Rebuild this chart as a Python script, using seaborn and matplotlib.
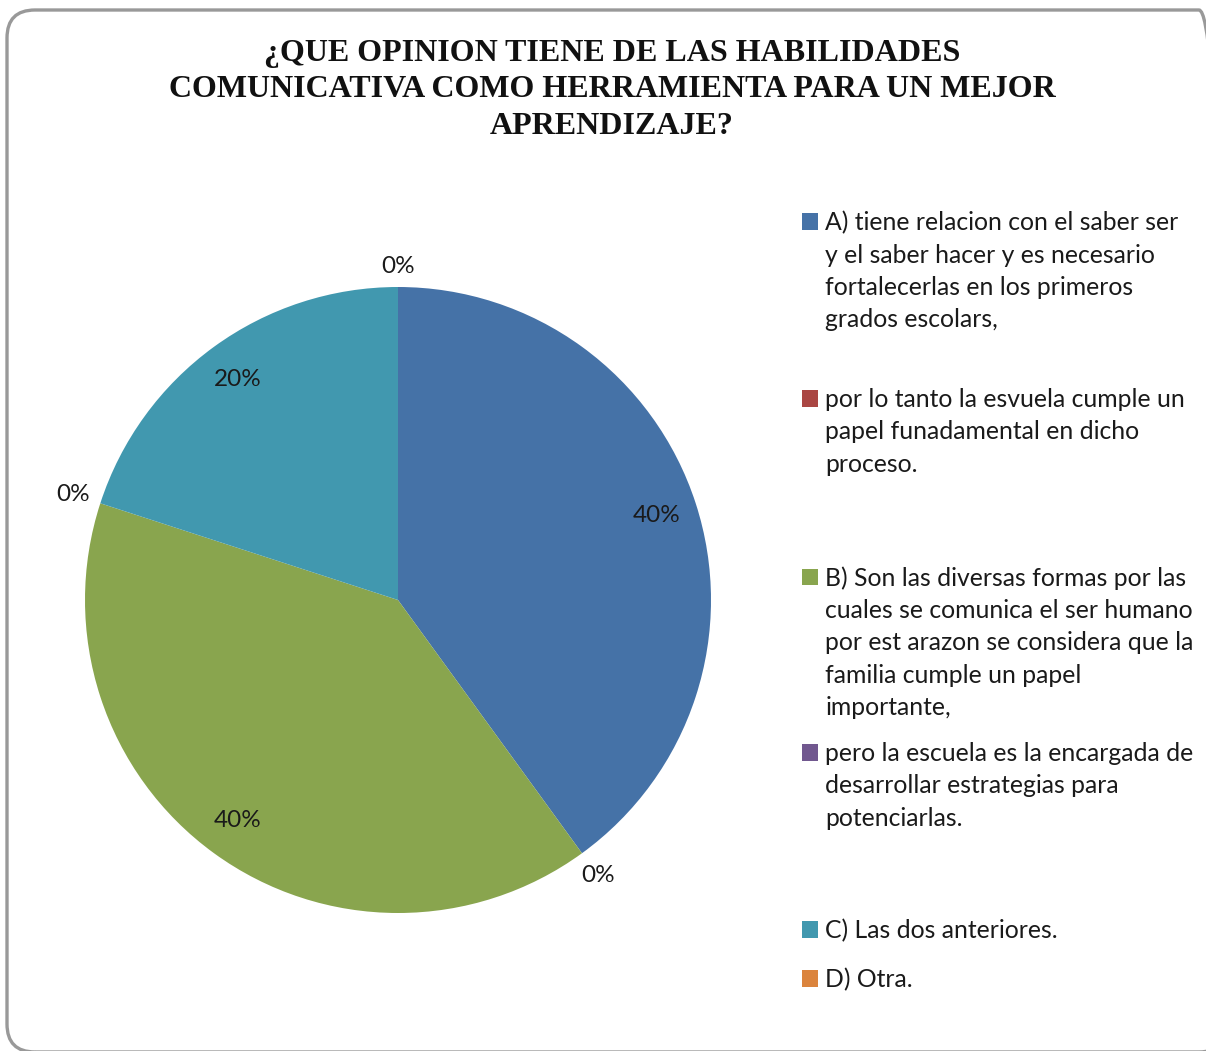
import numpy as np
import matplotlib.pyplot as plt
import seaborn as sns
from matplotlib.patches import Patch, FancyBboxPatch

# categories / values
categorias = [
    "A) tiene relacion con el saber ser\ny el saber hacer y es necesario\nfortalecerlas en los primeros\ngrados escolars,",
    "por lo tanto la esvuela cumple un\npapel funadamental en dicho\nproceso.",
    "B) Son las diversas formas por las\ncuales se comunica el ser humano\npor est arazon se considera que la\nfamilia cumple un papel\nimportante,",
    "pero la escuela es la encargada de\ndesarrollar estrategias para\npotenciarlas.",
    "C) Las dos anteriores.",
    "D) Otra.",
]
porcentajes = [40, 0, 40, 0, 20, 0]
colores = ["#4572A7", "#AA4643", "#89A54E", "#71588F", "#4198AF", "#DB843D"]
titulo = "¿QUE OPINION TIENE DE LAS HABILIDADES\nCOMUNICATIVA COMO HERRAMIENTA PARA UN MEJOR\nAPRENDIZAJE?"

sns.set_style("white")
plt.rcParams['font.family'] = ['Lato', 'DejaVu Sans']

W, H = 1206, 1051
fig = plt.figure(figsize=(W / 100, H / 100), dpi=100)

# rounded chart frame (inches, runs off the right/bottom edge like the original)
frame = FancyBboxPatch((0.07, -0.01), 12.2, 10.42,
                       boxstyle="round,pad=0,rounding_size=0.28",
                       transform=fig.dpi_scale_trans, facecolor="none",
                       edgecolor="#999999", linewidth=2.4, zorder=0,
                       clip_on=False)
fig.patches.append(frame)

cx, cy, r = 398, 600, 313
ax = fig.add_axes([(cx - r) / W, (H - cy - r) / H, 2 * r / W, 2 * r / H])
wedges, texts, autotexts = ax.pie(porcentajes, colors=colores, startangle=90,
                                  counterclock=False, autopct="%1.0f%%",
                                  pctdistance=0.87, radius=1,
                                  wedgeprops=dict(linewidth=0),
                                  textprops=dict(fontsize=17.5, color="#1a1a1a"))
ax.set_xlim(-1, 1)
ax.set_ylim(-1, 1)
ax.set_aspect("equal")

# zero-value labels go just outside the pie at the slice boundary
for w, t, v in zip(wedges, autotexts, porcentajes):
    if v == 0:
        ang = np.deg2rad(w.theta1)
        d = 1.035 + 0.048 * abs(np.cos(ang)) + 0.032 * abs(np.sin(ang))
        t.set_position((d * np.cos(ang), d * np.sin(ang)))

fig.text(612 / W, 1 - 39 / H, titulo, ha="center", va="top", fontsize=23,
         fontweight="bold", family="Liberation Serif", linespacing=1.33,
         color="#111111")

# legend: one block per entry, marker on the first line
ytops = [211, 388, 566, 742, 919, 968]
for w, lab, yt in zip(wedges, categorias, ytops):
    lines = lab.split("\n")
    hs = [Patch(facecolor=w.get_facecolor(), edgecolor="none")]
    hs += [Patch(facecolor="none", edgecolor="none") for _ in lines[1:]]
    leg = fig.legend(hs, lines, loc="upper left",
                     bbox_to_anchor=(802 / W, 1 - yt / H),
                     frameon=False, fontsize=17.8, handlelength=0.65,
                     handleheight=0.65, handletextpad=0.3,
                     labelspacing=0.38, borderpad=0, borderaxespad=0)
    for t in leg.get_texts():
        t.set_color("#1a1a1a")

fig.savefig("out.png", dpi=100)
